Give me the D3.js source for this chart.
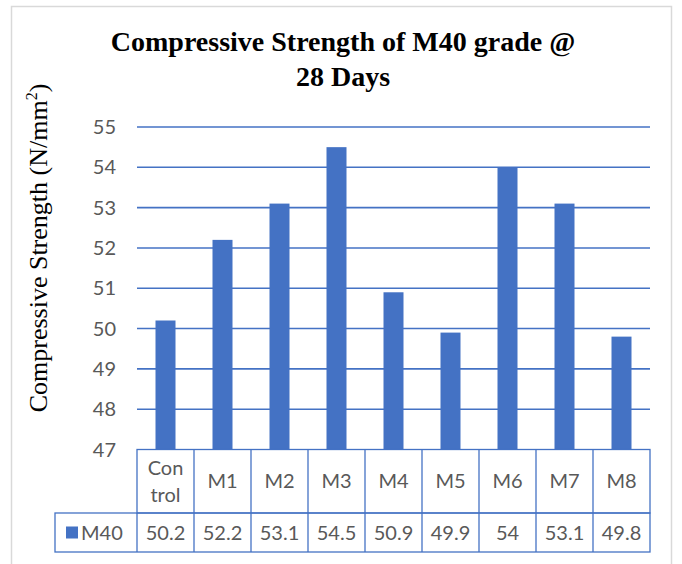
<!DOCTYPE html>
<html>
<head>
<meta charset="utf-8">
<script src="https://cdn.jsdelivr.net/npm/d3@7"></script>
<style>
  body { margin: 0; background: #fff; }
  text { font-family: "Lato", "Open Sans", sans-serif; }
</style>
</head>
<body>
<svg id="chart" width="682" height="564"></svg>
<script>
// data
var categories = ['Control', 'M1', 'M2', 'M3', 'M4', 'M5', 'M6', 'M7', 'M8'];
var catLines = [['Con', 'trol'], ['M1'], ['M2'], ['M3'], ['M4'], ['M5'], ['M6'], ['M7'], ['M8']];
var m40 = [50.2, 52.2, 53.1, 54.5, 50.9, 49.9, 54, 53.1, 49.8];
var yTicks = [47, 48, 49, 50, 51, 52, 53, 54, 55];
var seriesName = 'M40';

var blue = '#4472C4', grey = '#595959';
var svg = d3.select('#chart');

// outer frame
svg.append('rect')
    .attr('x', 11.5).attr('y', 6.5)
    .attr('width', 660).attr('height', 580)
    .attr('fill', 'none')
    .attr('stroke', '#d9d9d9')
    .attr('stroke-width', 1.5);

var plotL = 137, plotR = 650, plotT = 127, plotB = 449.5;
var x = d3.scaleBand().domain(categories).range([plotL, plotR]);
var y = d3.scaleLinear().domain([47, 55]).range([plotB, plotT]);

// title
var title = svg.append('text')
    .attr('text-anchor', 'middle')
    .style('font-family', '"Liberation Serif", "DejaVu Serif", serif')
    .style('font-weight', 'bold')
    .style('font-size', '28px')
    .attr('fill', '#000');
title.append('tspan').attr('x', 343).attr('y', 51).text('Compressive Strength of M40 grade @');
title.append('tspan').attr('x', 343).attr('y', 86).text('28 Days');

// y axis title
var yt = svg.append('text')
    .attr('transform', 'translate(47,' + 248 + ') rotate(-90)')
    .attr('text-anchor', 'middle')
    .style('font-family', '"Liberation Serif", "DejaVu Serif", serif')
    .style('font-size', '26px')
    .attr('fill', '#000');
yt.append('tspan').text('Compressive Strength (N/mm');
yt.append('tspan').attr('dy', -10).style('font-size', '16px').text('2');
yt.append('tspan').attr('dy', 10).text(')');

// gridlines
svg.append('g')
    .selectAll('line')
    .data(yTicks.filter(function(d) { return d > 47; }))
    .enter()
    .append('line')
    .attr('x1', plotL).attr('x2', plotR)
    .attr('y1', function(d) { return y(d); })
    .attr('y2', function(d) { return y(d); })
    .attr('stroke', blue)
    .attr('stroke-width', 1.6);

// y tick labels
svg.append('g')
    .selectAll('text')
    .data(yTicks)
    .enter()
    .append('text')
    .attr('x', 116)
    .attr('y', function(d) { return y(d) + 7; })
    .attr('text-anchor', 'end')
    .attr('fill', grey)
    .style('font-size', '20px')
    .text(function(d) { return d; });

// bars
var barW = 20;
svg.append('g')
    .selectAll('rect')
    .data(m40)
    .enter()
    .append('rect')
    .attr('x', function(d, i) { return x(categories[i]) + x.bandwidth() / 2 - barW / 2; })
    .attr('y', function(d) { return y(d); })
    .attr('width', barW)
    .attr('height', function(d) { return y(47) - y(d); })
    .attr('fill', blue);

// data table
var row1Top = plotB, row1Bot = 513, row2Bot = 552, legLeft = 55;
var tbl = svg.append('g').attr('fill', 'none').attr('stroke', blue).attr('stroke-width', 1.3);
tbl.append('rect').attr('x', plotL).attr('y', row1Top).attr('width', plotR - plotL).attr('height', row1Bot - row1Top);
tbl.append('rect').attr('x', legLeft).attr('y', row1Bot).attr('width', plotR - legLeft).attr('height', row2Bot - row1Bot);
tbl.selectAll('line.col')
    .data(categories.slice(1))
    .enter()
    .append('line')
    .attr('class', 'col')
    .attr('x1', function(d) { return x(d); })
    .attr('x2', function(d) { return x(d); })
    .attr('y1', row1Top).attr('y2', row2Bot);
tbl.append('line').attr('x1', plotL).attr('x2', plotL).attr('y1', row1Bot).attr('y2', row2Bot);

// category labels
svg.append('g')
    .selectAll('text')
    .data(catLines)
    .enter()
    .append('text')
    .attr('text-anchor', 'middle')
    .attr('fill', grey)
    .style('font-size', '20px')
    .each(function(lines, i) {
        var cx = x(categories[i]) + x.bandwidth() / 2;
        var mid = (row1Top + row1Bot) / 2;
        var t = d3.select(this);
        lines.forEach(function(s, j) {
            t.append('tspan')
                .attr('x', cx)
                .attr('y', mid + 7 + (j - (lines.length - 1) / 2) * 27)
                .text(s);
        });
    });

// legend key + values
var rowMid = (row1Bot + row2Bot) / 2;
svg.append('rect')
    .attr('x', 66).attr('y', rowMid - 6)
    .attr('width', 12).attr('height', 12)
    .attr('fill', blue);
svg.append('text')
    .attr('x', 81).attr('y', rowMid + 7)
    .attr('fill', grey)
    .style('font-size', '20px')
    .text(seriesName);
svg.append('g')
    .selectAll('text')
    .data(m40)
    .enter()
    .append('text')
    .attr('x', function(d, i) { return x(categories[i]) + x.bandwidth() / 2; })
    .attr('y', rowMid + 7)
    .attr('text-anchor', 'middle')
    .attr('fill', grey)
    .style('font-size', '20px')
    .text(function(d) { return d; });
</script>
</body>
</html>
